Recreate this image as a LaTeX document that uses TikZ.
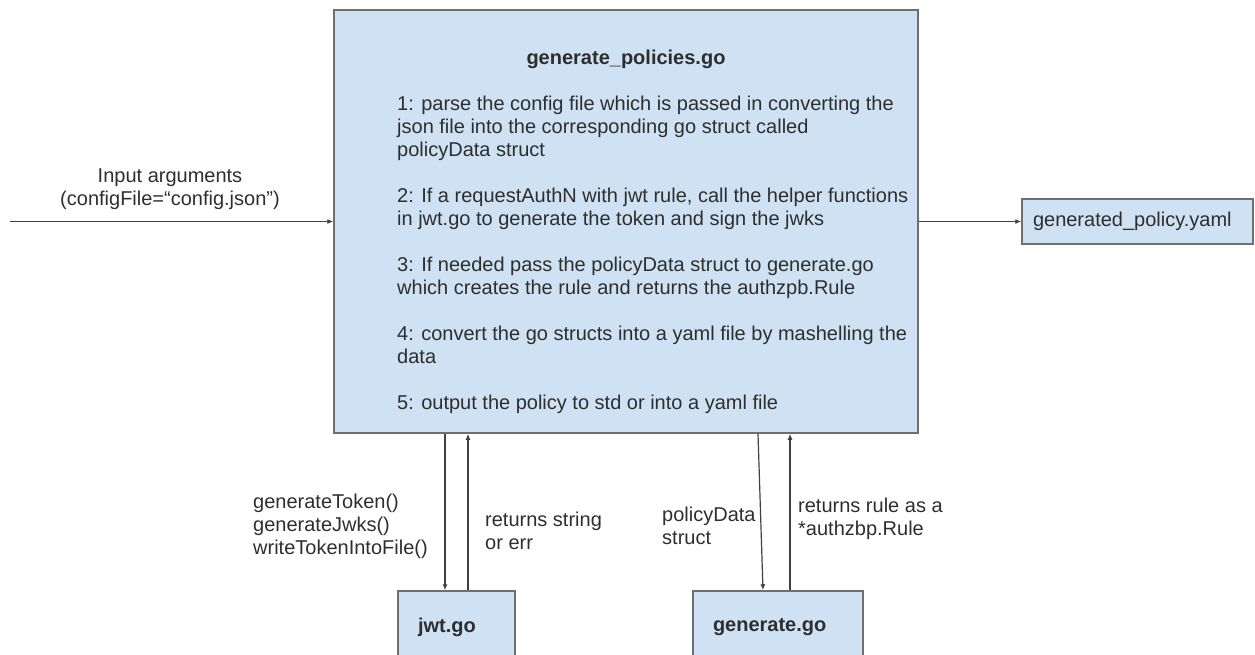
\documentclass[tikz,border=0pt]{standalone}
\usepackage{fontspec}
\setmainfont{Liberation Sans}
\usepackage{tikz}
\usetikzlibrary{arrows.meta}
\usetikzlibrary{positioning}

\definecolor{boxblue}{HTML}{CFE2F3}
\definecolor{boxline}{HTML}{6F6F6F}
\definecolor{wire}{HTML}{404040}
\definecolor{ink}{HTML}{2E2E2E}

\begin{document}
\begin{tikzpicture}[x=1pt,y=-1pt,font=\fontsize{20}{23}\selectfont,text=ink]
    \clip (0,0) rectangle (1255,654);
    \begin{scope}[every node/.style={rectangle,draw=boxline,fill=boxblue,line width=1.5pt,inner sep=0pt}]
    \node[minimum width=584pt,minimum height=423pt] (main) at (626,221.5) {};
    \node[minimum width=231pt,minimum height=45pt,text width=209pt,align=left] (policy) at (1137.5,221.5) {generated\_policy.yaml};
    \node[minimum width=117pt,minimum height=72pt,text width=77pt,align=left,font=\fontsize{20}{23}\selectfont\bfseries] (jwt) at (456.5,627) {jwt.go};
    \node[minimum width=170pt,minimum height=72pt,text width=130pt,align=left,font=\fontsize{20}{23}\selectfont\bfseries] (gen) at (778,627) {generate.go};
    \end{scope}
    % text inside the main box
    \node[font=\fontsize{20}{23}\selectfont\bfseries] (title) at (626,59) {generate\_policies.go};
    \node[anchor=west,align=left,inner sep=0pt] (steps) at (397,255) {1: parse the config file which is passed in converting the\\json file into the corresponding go struct called\\policyData struct\\[23pt]2: If a requestAuthN with jwt rule, call the helper functions\\in jwt.go to generate the token and sign the jwks\\[23pt]3: If needed pass the policyData struct to generate.go\\which creates the rule and returns the authzpb.Rule\\[23pt]4: convert the go structs into a yaml file by mashelling the\\data\\[23pt]5: output the policy to std or into a yaml file};
    % labels
    \node[align=center,inner sep=0pt] (inargs) at (170,189.5) {Input arguments\\(configFile=“config.json”)};
    \node[anchor=west,align=left,inner sep=0pt] (jwtcalls) at (253,526) {generateToken()\\generateJwks()\\writeTokenIntoFile()};
    \node[anchor=west,align=left,inner sep=0pt] (jwtret) at (485,531) {returns string\\or err};
    \node[anchor=west,align=left,inner sep=0pt] (gendata) at (662,526) {policyData\\struct};
    \node[anchor=west,align=left,inner sep=0pt] (genret) at (798,519) {returns rule as a\\*authzbp.Rule};
    \coordinate (start) at (10,221.5);
    \coordinate (jA) at ([xshift=-11.5pt]jwt.north);
    \coordinate (jB) at ([xshift=11.5pt]jwt.north);
    \coordinate (gA) at ([xshift=-15pt]gen.north);
    \coordinate (gB) at ([xshift=12pt]gen.north);
    \begin{scope}[every edge/.style={draw=wire,line width=1.2pt,-{Latex[length=6pt,width=5pt]}}]
    \path (start) edge (main.west);
    \path (main.east) edge (policy.west);
    \path (main.south -| jA) edge (jA);
    \path (jB) edge (main.south -| jB);
    \path ([xshift=-5pt]main.south -| gA) edge (gA);
    \path (gB) edge (main.south -| gB);
    \end{scope}
\end{tikzpicture}
\end{document}
